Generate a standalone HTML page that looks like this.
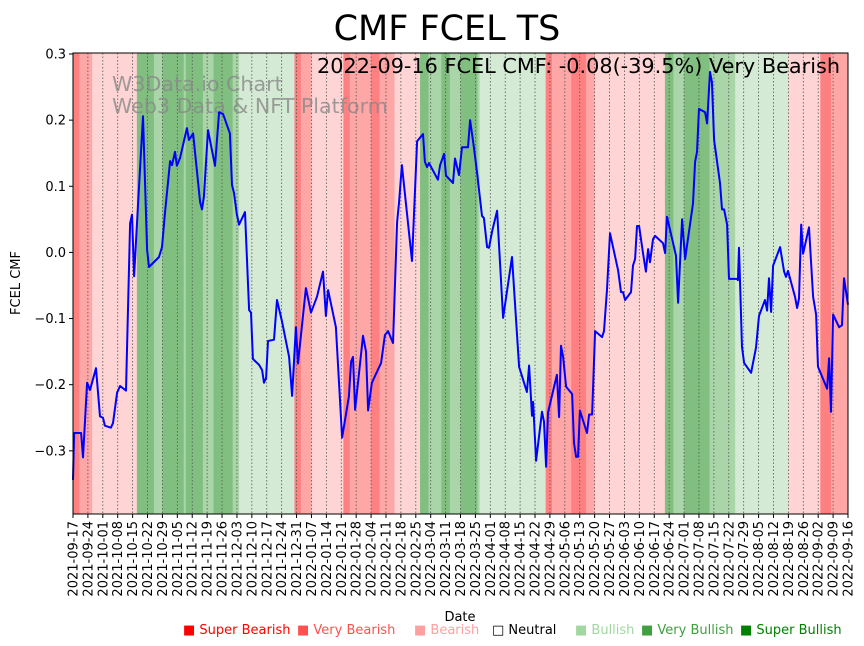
<!DOCTYPE html>
<html><head><meta charset="utf-8"><style>
body{margin:0;background:#fff;font-family:"Liberation Sans","DejaVu Sans",sans-serif;}
svg{display:block}
</style></head><body>
<svg id="chart" width="864" height="646" xmlns="http://www.w3.org/2000/svg" font-family="DejaVu Sans, Liberation Sans, sans-serif">
<g id="bands"></g>
<g id="grid"></g>
<text x="112" y="91" font-size="20.6" fill="#888" fill-opacity="0.8">W3Data.io Chart</text>
<text x="112" y="113" font-size="20.6" fill="#888" fill-opacity="0.8">Web3 Data &amp; NFT Platform</text>
<path id="line" fill="none" stroke="#0000ff" stroke-width="2" stroke-linejoin="round"/>
<rect x="73" y="53" width="775" height="461" fill="none" stroke="#000" stroke-width="1"/>
<g id="yaxis"></g>
<g id="xaxis"></g>
<text x="447" y="40" font-size="35" text-anchor="middle">CMF FCEL TS</text>
<text x="840" y="73" font-size="20.8" text-anchor="end">2022-09-16 FCEL CMF: -0.08(-39.5%) Very Bearish</text>
<text transform="translate(20,283) rotate(-90)" font-size="13" text-anchor="middle">FCEL CMF</text>
<text x="460" y="621" font-size="13" text-anchor="middle">Date</text>
<g font-size="13">
<text x="183" y="634" fill="#ff0000">■ Super Bearish</text>
<text x="297" y="634" fill="#ff5050">■ Very Bearish</text>
<text x="414" y="634" fill="#ffa0a0">■ Bearish</text>
<text x="492" y="634" fill="#000">□ Neutral</text>
<text x="575" y="634" fill="#a0d8a0">■ Bullish</text>
<text x="641" y="634" fill="#40a040">■ Very Bullish</text>
<text x="740" y="634" fill="#008000">■ Super Bullish</text>
</g>
</svg>
<script>
const days=[0,0.5,3.8,4.7,6.6,8.0,10.8,12.7,14.1,15.0,17.8,18.8,20.7,22.1,24.9,26.8,27.7,28.7,30.5,32.9,34.8,35.7,40.4,41.8,43.2,45.6,46.5,47.9,48.8,50.3,53.5,54.5,56.4,59.7,60.6,61.5,63.4,66.7,68.6,70.5,73.7,74.7,75.6,77.0,78.0,80.8,82.7,83.6,84.5,87.4,88.8,89.7,90.7,91.6,94.4,95.8,98.2,101.5,102.9,104.7,105.7,109.4,111.8,114.6,117.4,118.8,119.8,123.5,126.4,129.6,130.6,131.5,132.5,136.2,137.6,138.6,140.4,144.7,146.5,148.0,150.3,152.2,153.1,154.5,159.2,161.6,164.4,165.3,166.3,167.2,171.4,172.4,174.3,175.2,178.5,179.4,181.3,182.7,185.5,186.5,188.3,189.8,192.1,193.0,194.5,195.4,196.8,199.2,202.0,206.2,209.5,213.2,214.2,215.6,216.1,217.5,220.3,221.2,222.2,223.1,227.3,228.3,229.2,230.2,231.6,234.4,235.3,236.3,237.2,238.1,241.4,242.4,243.8,245.2,248.5,249.4,250.8,252.2,256.0,257.4,258.3,259.3,262.1,263.0,264.0,264.9,265.9,267.7,269.1,270.1,271.0,272.4,273.4,277.1,278.1,279.0,283.2,284.2,286.1,287.5,291.2,292.2,293.1,294.0,296.9,297.8,299.2,300.1,301.1,303.9,304.8,305.8,307.2,308.1,311.9,312.3,312.8,314.2,315.2,318.5,320.8,322.2,325.0,326.0,326.9,327.9,328.8,332.1,334.0,334.9,335.8,339.1,340.1,341.0,342.0,342.9,345.7,347.6,349.0,349.9,354.2,355.1,356.0,357.0,359.8,361.2,362.1,364];
const cmf=[-0.344,-0.273,-0.273,-0.31,-0.197,-0.208,-0.175,-0.248,-0.25,-0.262,-0.265,-0.258,-0.212,-0.202,-0.209,0.044,0.057,-0.036,0.069,0.206,0.004,-0.022,-0.007,0.008,0.06,0.138,0.132,0.152,0.131,0.143,0.188,0.17,0.18,0.076,0.065,0.084,0.185,0.131,0.212,0.209,0.18,0.102,0.09,0.057,0.042,0.061,-0.087,-0.091,-0.161,-0.17,-0.178,-0.197,-0.19,-0.134,-0.132,-0.072,-0.105,-0.158,-0.217,-0.113,-0.168,-0.054,-0.091,-0.067,-0.029,-0.096,-0.057,-0.113,-0.28,-0.218,-0.165,-0.158,-0.238,-0.126,-0.15,-0.239,-0.197,-0.167,-0.125,-0.119,-0.137,0.046,0.075,0.132,-0.013,0.168,0.179,0.137,0.129,0.135,0.11,0.132,0.149,0.116,0.105,0.142,0.117,0.159,0.159,0.2,0.159,0.12,0.055,0.052,0.008,0.007,0.031,0.063,-0.099,-0.007,-0.173,-0.211,-0.171,-0.247,-0.226,-0.315,-0.241,-0.256,-0.324,-0.242,-0.185,-0.249,-0.141,-0.158,-0.203,-0.214,-0.288,-0.309,-0.309,-0.239,-0.273,-0.245,-0.245,-0.119,-0.128,-0.119,-0.056,0.029,-0.027,-0.06,-0.06,-0.072,-0.06,-0.02,-0.01,0.04,0.04,-0.001,-0.029,0.005,-0.015,0.02,0.025,0.014,-0.001,0.054,-0.005,-0.076,0.05,-0.01,0.074,0.137,0.152,0.217,0.212,0.195,0.273,0.258,0.17,0.105,0.065,0.065,0.042,-0.04,-0.04,-0.042,0.007,-0.143,-0.167,-0.182,-0.144,-0.096,-0.072,-0.088,-0.039,-0.09,-0.02,0.008,-0.029,-0.037,-0.028,-0.067,-0.084,-0.07,0.042,-0.002,0.038,-0.067,-0.094,-0.173,-0.206,-0.16,-0.241,-0.094,-0.113,-0.11,-0.039,-0.079];
const bandStart=[0,3,9,30,38,42,52,53,61,66,75,78,104,107,112,127,130,140,144,151,163,167,173,177,182,190,191,222,225,234,241,245,278,282,287,299,311,336,351,356];
const bandEnd=[3,9,30,38,42,52,53,61,66,75,78,104,107,112,127,130,140,144,151,163,167,173,177,182,190,191,222,225,234,241,245,278,282,287,299,311,336,351,356,364];
const bandLevel=[-3,-2,-1,3,2,3,2,3,2,3,2,1,-3,-2,-1,-3,-2,-3,-2,-1,3,2,3,2,3,2,1,-3,-2,-3,-2,-1,3,2,3,2,1,-1,-3,-2];
const yTicks=[0.3,0.2,0.1,0.0,-0.1,-0.2,-0.3];

const NS='http://www.w3.org/2000/svg';
const X0=73,X1=848,Y0=53,Y1=514,DMAX=364,VMAX=0.3015,VMIN=-0.3955;
function xs(d){return X0+d*(X1-X0)/DMAX;}
function ys(v){return Y0+(VMAX-v)*(Y1-Y0)/(VMAX-VMIN);}
const colors={'-3':'#ff8080','-2':'#ffa6a6','-1':'#ffd4d4','1':'#d4ead4','2':'#a9d5a9','3':'#80bf80'};
const bands=document.getElementById('bands');
for(let i=0;i<bandStart.length;i++){
  const r=document.createElementNS(NS,'rect');
  r.setAttribute('x',xs(bandStart[i]));
  r.setAttribute('width',xs(bandEnd[i])-xs(bandStart[i])+0.3);
  r.setAttribute('y',Y0);r.setAttribute('height',Y1-Y0);
  r.setAttribute('fill',colors[bandLevel[i]]);
  
  
  bands.appendChild(r);
}
const grid=document.getElementById('grid'),xa=document.getElementById('xaxis');
const start=new Date(Date.UTC(2021,8,17));
for(let d=0;d<=DMAX;d+=7){
  const x=xs(d);
  const g=document.createElementNS(NS,'line');
  g.setAttribute('x1',x);g.setAttribute('x2',x);g.setAttribute('y1',Y0);g.setAttribute('y2',Y1);
  g.setAttribute('stroke','#555');g.setAttribute('stroke-width','0.8');g.setAttribute('stroke-dasharray','1.5,2');
  
  
  grid.appendChild(g);
  const t=document.createElementNS(NS,'line');
  t.setAttribute('x1',x);t.setAttribute('x2',x);t.setAttribute('y1',Y1);t.setAttribute('y2',Y1+4);t.setAttribute('stroke','#000');
  
  
  xa.appendChild(t);
  const dt=new Date(start.getTime()+d*86400000);
  const lbl=dt.toISOString().slice(0,10);
  const tx=document.createElementNS(NS,'text');
  tx.setAttribute('transform','translate('+(x+4.5)+','+(Y1+7)+') rotate(-90)');
  tx.setAttribute('text-anchor','end');tx.setAttribute('font-size','13');
  tx.textContent=lbl;
  
  
  xa.appendChild(tx);
}
const ya=document.getElementById('yaxis');
yTicks.forEach(v=>{
  const y=ys(v);
  const t=document.createElementNS(NS,'line');
  t.setAttribute('x1',X0-4);t.setAttribute('x2',X0);t.setAttribute('y1',y);t.setAttribute('y2',y);t.setAttribute('stroke','#000');
  
  
  ya.appendChild(t);
  const tx=document.createElementNS(NS,'text');
  tx.setAttribute('x',X0-7);tx.setAttribute('y',y+4.5);tx.setAttribute('text-anchor','end');tx.setAttribute('font-size','13');
  tx.textContent=v.toFixed(1).replace('-','\u2212');
  
  
  ya.appendChild(tx);
});
let p='';
for(let i=0;i<days.length;i++){p+=(i?'L':'M')+xs(days[i]).toFixed(1)+','+ys(cmf[i]).toFixed(1);}
document.getElementById('line').setAttribute('d',p);
</script>
</body></html>
